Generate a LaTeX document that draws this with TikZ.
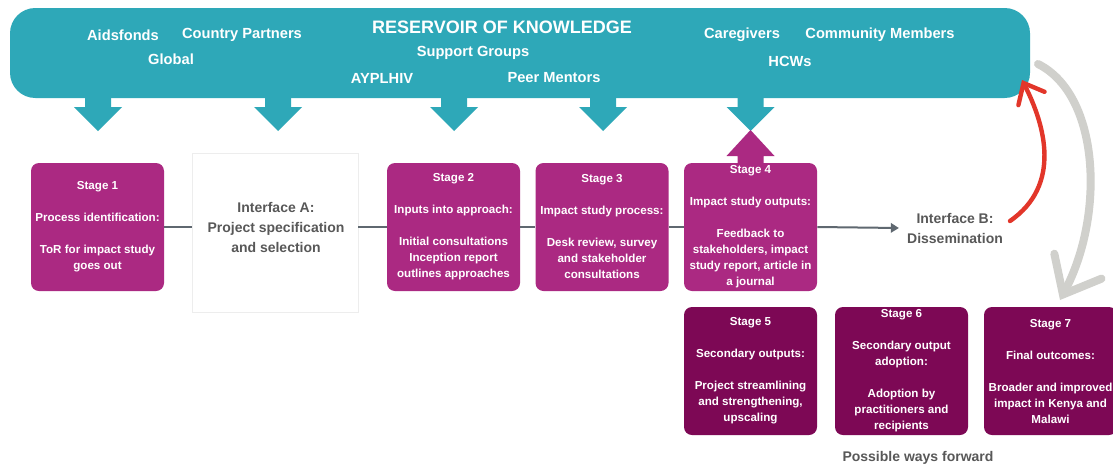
\documentclass[tikz,border=0pt]{standalone}
\usepackage{fontspec}
\setmainfont{Liberation Sans}
\usetikzlibrary{arrows.meta}
\definecolor{tealc}{RGB}{46,168,184}
\definecolor{magc}{RGB}{171,41,130}
\definecolor{dpurc}{RGB}{125,8,85}
\definecolor{txtgray}{RGB}{88,88,88}
\definecolor{lngray}{RGB}{95,104,112}
\definecolor{redarr}{RGB}{226,54,42}
\definecolor{grayarr}{RGB}{208,208,204}
\begin{document}
\begin{tikzpicture}[x=0.75pt,y=-0.75pt,
  stagebox/.style={fill=magc, rounded corners=6pt, minimum width=99.75pt, minimum height=96pt,
    text=white, font=\bfseries\fontsize{8.7}{12}\selectfont, align=center, inner sep=0pt},
  stagedark/.style={stagebox, fill=dpurc},
  reslabel/.style={text=white, font=\bfseries\fontsize{11}{13}\selectfont, inner sep=0pt},
  restitle/.style={text=white, font=\bfseries\fontsize{13.5}{15}\selectfont, inner sep=0pt},
  iface/.style={text=txtgray, font=\bfseries\fontsize{10.5}{15}\selectfont, align=center, inner sep=6pt},
  conn/.style={draw=lngray, line width=1.5pt},
  tealarrow/.style={fill=tealc},
]
\useasboundingbox (0,0) rectangle (1113,468);
\fill[white] (0,0) rectangle (1113,468);
\clip (0,0) rectangle (1113,468);

% banner
\node[fill=tealc, rounded corners=19pt, minimum width=765pt, minimum height=67.5pt, inner sep=0pt] (res) at (520,53) {};
\node[restitle] (title) at (502,27) {RESERVOIR OF KNOWLEDGE};
\node[reslabel] (aids) at (123,35) {Aidsfonds};
\node[reslabel] (cp) at (242,35) {Country Partners};
\node[reslabel] (glob) at (171,59) {Global};
\node[reslabel] (sg) at (473,53) {Support Groups};
\node[reslabel] (ayp) at (382,78) {AYPLHIV};
\node[reslabel] (pm) at (554,78) {Peer Mentors};
\node[reslabel] (cg) at (742,35) {Caregivers};
\node[reslabel] (cm) at (880,35) {Community Members};
\node[reslabel] (hcw) at (790,61) {HCWs};

% down block arrows
\foreach \cx in {98,278,454,603,750.5}{
  \fill[tealarrow] ({\cx-13},97) -- ({\cx+13},97) -- ({\cx+13},107) -- ({\cx+24},107)
    -- (\cx,131) -- ({\cx-24},107) -- ({\cx-13},107) -- cycle;
}

% stages
\node[stagebox] (s1) at (97.5,227) {Stage 1\\[12pt]Process identification:\\[12pt]ToR for impact study\\goes out};
\node[draw=black!7, fill=white, minimum width=124.5pt, minimum height=119.25pt, inner sep=0pt] (ia) at (275,232.5) {};
\node[iface] (iat) at (276,227) {Interface A:\\Project specification\\and selection};
\node[stagebox] (s2) at (453.5,227) {Stage 2\\[12pt]Inputs into approach:\\[12pt]Initial consultations\\Inception report\\outlines approaches};
\node[stagebox] (s3) at (602,227) {Stage 3\\[12pt]Impact study process:\\[12pt]Desk review, survey\\and stakeholder\\consultations};
\node[stagebox] (s4) at (750.5,227) {Stage 4\\[12pt]Impact study outputs:\\[12pt]Feedback to\\stakeholders, impact\\study report, article in\\a journal};
\node[iface] (ib) at (955,228) {Interface B:\\Dissemination};

\node[stagedark] (s5) at (750.5,371) {Stage 5\\[12pt]Secondary outputs:\\[12pt]Project streamlining\\and strengthening,\\upscaling};
\node[stagedark] (s6) at (901.5,371) {Stage 6\\[12pt]Secondary output\\adoption:\\[12pt]Adoption by\\practitioners and\\recipients};
\node[stagedark] (s7) at (1050.5,371) {Stage 7\\[12pt]Final outcomes:\\[12pt]Broader and improved\\impact in Kenya and\\Malawi};
\node[iface] (pwf) at (918,458) {Possible ways forward};

% up block arrow from stage 4
\fill[magc] (737.5,165) -- (737.5,156) -- (726.5,156) -- (750.5,130) -- (774.5,156) -- (763.5,156) -- (763.5,165) -- cycle;

% connectors
\draw[conn] (s1.east) -- (s1.east -| ia.west);
\draw[conn] (ia.east |- s2.west) -- (s2.west);
\draw[conn] (s2.east) -- (s3.west);
\draw[conn] (s3.east) -- (s4.west);
\draw[conn, -{Triangle[length=6pt,width=7pt]}] (s4.east) -- (ib.west);

% red feedback arrow
\coordinate (rs) at (1010,221);
\coordinate (rt) at (1022,80);
\draw[redarr, line width=3.3pt, line cap=round, -{Straight Barb[length=13pt,width=22pt,line cap=round]}]
  (rs) .. controls (1062,185) and (1045,125) .. (rt);

% grey way-forward arrow
\coordinate (gs) at (1038,64);
\coordinate (ge) at (1060,300);
\draw[grayarr, line width=6pt, line cap=round, -{Straight Barb[length=24pt,width=40pt,line cap=round]}]
  (gs) .. controls (1100,95) and (1105,215) .. (ge);
\end{tikzpicture}
\end{document}
